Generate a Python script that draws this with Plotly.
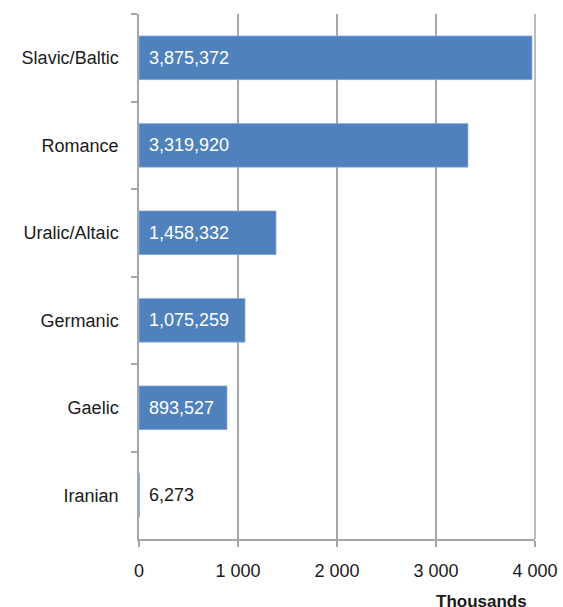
import plotly.graph_objects as go

categories = ["Slavic/Baltic", "Romance", "Uralic/Altaic", "Germanic", "Gaelic", "Iranian"]
bar_values = [3970, 3323, 1384, 1071, 889, 6]  # thousands, as drawn
label_texts = ["3,875,372", "3,319,920", "1,458,332", "1,075,259", "893,527", "6,273"]
x_ticks = [0, 1000, 2000, 3000, 4000]
x_tick_labels = ["0", "1 000", "2 000", "3 000", "4 000"]

FONT = "Liberation Sans"
FS = 18
BAR = "#4f81bd"
GRID = "#a6a6a6"
TXT = "#1a1a1a"

# target plot area in page pixels
PL, PR, PT, PB = 139, 535, 14, 539

fig = go.Figure(go.Bar(
    x=bar_values, y=categories, orientation="h",
    marker=dict(color=BAR, line=dict(color="#8eb0dc", width=0.7)),
    width=0.5, hoverinfo="skip",
))

annotations = []
for cat, val, txt in zip(categories, bar_values, label_texts):
    annotations.append(dict(
        x=0, y=cat, xref="x", yref="y", text=txt, showarrow=False,
        xanchor="left", yanchor="middle", xshift=8,
        font=dict(family=FONT, size=FS, color="white" if val > 100 else TXT),
    ))
annotations.append(dict(
    x=(481 - PL) / (PR - PL), y=-(590 - PB) / (PB - PT),
    xref="paper", yref="paper", text="<b>Thousands</b>", showarrow=False,
    xanchor="center", yanchor="top", font=dict(family=FONT, size=17, color=TXT),
))

fig.update_layout(
    width=563, height=607,
    margin=dict(l=PL, r=563 - PR, t=PT, b=607 - PB),
    plot_bgcolor="white", paper_bgcolor="white",
    showlegend=False,
    annotations=annotations,
    font=dict(family=FONT, size=FS, color=TXT),
    xaxis=dict(
        range=[0, 4000], tickvals=x_ticks, ticktext=x_tick_labels,
        showgrid=True, gridcolor=GRID, gridwidth=1.5,
        showline=True, linecolor=GRID, linewidth=1.5,
        ticks="outside", ticklen=6, tickcolor=GRID, tickwidth=1.5,
        ticklabelstandoff=9, zeroline=False,
        tickfont=dict(family=FONT, size=FS, color=TXT),
        fixedrange=True, automargin=False,
    ),
    yaxis=dict(
        categoryorder="array", categoryarray=categories, autorange="reversed",
        showline=True, linecolor=GRID, linewidth=1.5,
        ticks="outside", ticklen=6, tickcolor=GRID, tickwidth=1.5,
        tickson="boundaries", showgrid=False, ticklabelstandoff=15,
        tickfont=dict(family=FONT, size=FS, color=TXT),
        fixedrange=True, automargin=False,
    ),
)
fig.add_shape(type="line", xref="paper", yref="paper", x0=1, x1=1, y0=0, y1=1,
              line=dict(color=GRID, width=1.5), layer="below")

fig.write_html(
    "out.html",
    config={"displayModeBar": False},
    post_script="document.body.style.margin='0';document.body.style.overflow='hidden';",
)
